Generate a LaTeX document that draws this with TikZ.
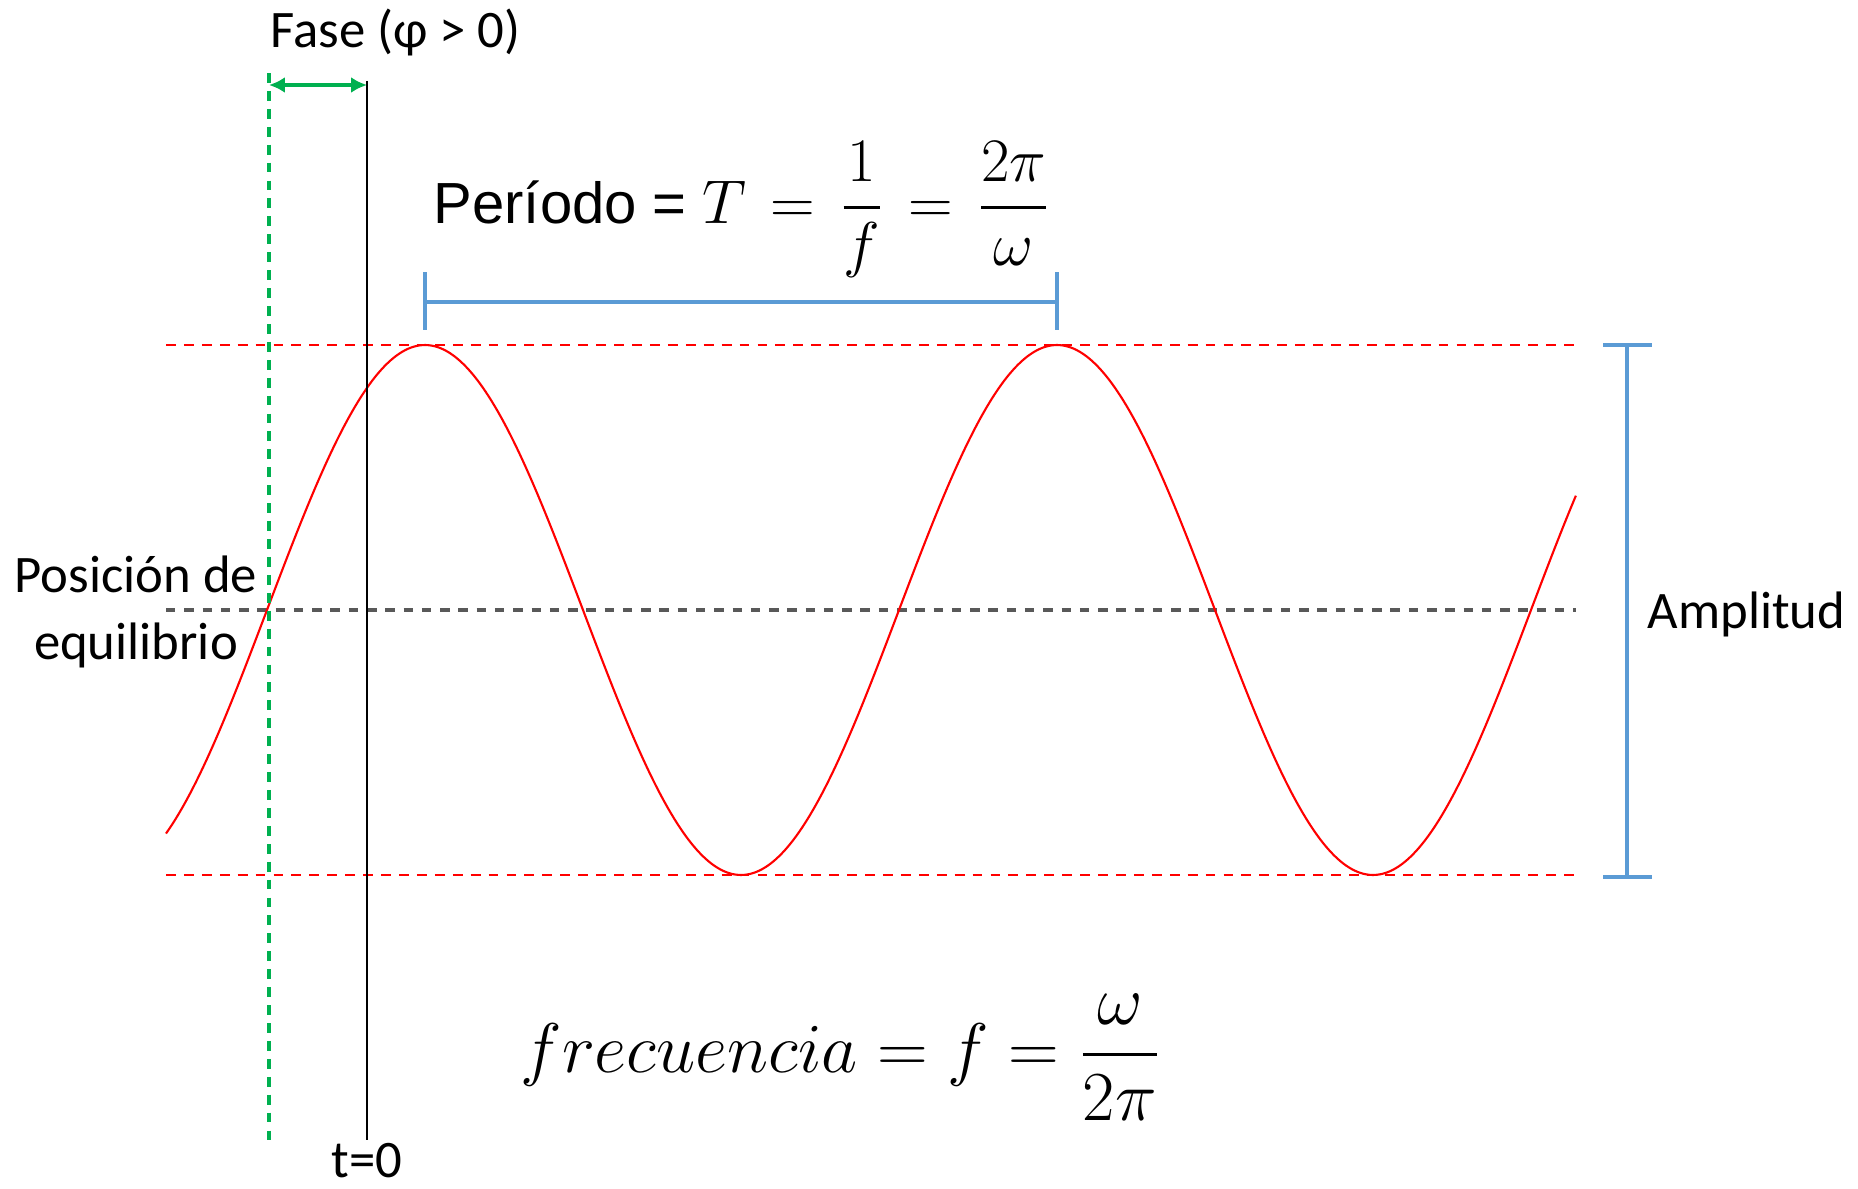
\RequirePackage{fix-cm}
\documentclass[tikz,border=0pt]{standalone}
\usepackage{fontspec}
\usepackage{amsmath}
\usepackage{xcolor}
\usepackage{tikz}
\usetikzlibrary{arrows.meta}
\newfontfamily\calibri{Carlito}
\newfontfamily\arial{Liberation Sans}
\definecolor{WaveRed}{HTML}{FF0000}
\definecolor{RefGray}{HTML}{595959}
\definecolor{PhaseGreen}{HTML}{00B050}
\definecolor{MarkBlue}{HTML}{5B9BD5}

\begin{document}
\begin{tikzpicture}[x=1cm,y=1cm,
  refline/.style={line width=0.7pt,dash pattern=on 2.8pt off 2.3pt},
  bluebar/.style={MarkBlue,line width=1.1pt},
  lbl/.style={inner sep=0pt,font=\calibri\fontsize{15}{19}\selectfont}]
\path[use as bounding box] (0,0) rectangle (18.58,11.88);
% limits and equilibrium
\draw[refline,WaveRed] (1.66,8.43) -- (15.76,8.43);
\draw[refline,WaveRed] (1.66,3.13) -- (15.76,3.13);
\draw[refline,RefGray,line width=1pt,dash pattern=on 2.7pt off 2.5pt] (1.66,5.78) -- (15.76,5.78);
% wave
\draw[WaveRed,line width=0.6pt] plot[domain=1.66:15.76,samples=240,smooth] (\x,{5.78+2.65*cos((\x-4.25)*360/6.32)});
% phase
\draw[refline,PhaseGreen,line width=0.9pt] (2.69,11.15) -- (2.69,0.41);
\draw[black,line width=0.7pt] (3.67,11.07) -- (3.67,0.48);
\coordinate (ph0) at (2.69,11.03);
\coordinate (ph1) at (3.67,11.03);
\draw[PhaseGreen,line width=0.9pt,{Latex[length=4.5pt,width=4.5pt]}-{Latex[length=4.5pt,width=4.5pt]}] (ph0) -- (ph1);
\node[lbl,anchor=base west] (fase) at (2.70,11.41) {Fase (φ > 0)};
\node[lbl,anchor=base] (t0) at (3.67,0.11) {t=0};
% period
\coordinate (pa) at (4.25,8.86);
\coordinate (pb) at (10.57,8.86);
\draw[bluebar] (4.25,9.16) -- (4.25,8.58) (pa) -- (pb) (10.57,9.16) -- (10.57,8.58);
\node[anchor=base west,inner sep=0pt] (periodo) at (4.33,9.65) {{\arial\fontsize{16.5}{19}\selectfont Período =\ }{\fontsize{17.6}{21}\selectfont\thickmuskip=7mu$T = \dfrac{1}{f} = \dfrac{2\pi}{\omega}$}};
% amplitude
\coordinate (amptop) at (16.27,8.43);
\coordinate (ampbot) at (16.27,3.11);
\draw[bluebar] (amptop) -- (ampbot) (16.03,8.43) -- (16.52,8.43) (16.03,3.11) -- (16.52,3.11);
\node[lbl,anchor=base west] (amp) at (16.47,5.60) {Amplitud};
\node[lbl,align=center] (equil) at (1.36,5.76) {Posición de\\equilibrio};
% frequency
\node[anchor=base west,inner sep=0pt] (frec) at (5.20,1.16) {\fontsize{20}{24}\selectfont$\displaystyle frecuencia = f = \frac{\omega}{2\pi}$};
\end{tikzpicture}
\end{document}
